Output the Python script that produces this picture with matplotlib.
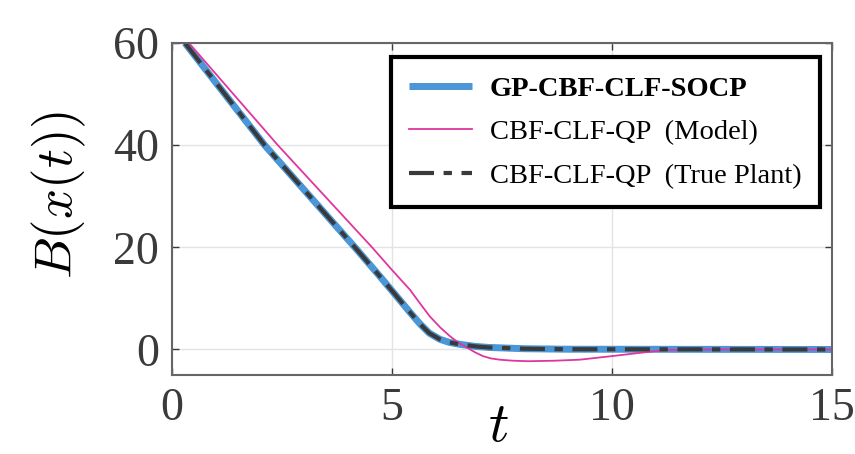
import matplotlib
matplotlib.use("Agg")
import matplotlib.pyplot as plt

t_socp = [0.3, 2.11, 4.16, 4.7, 5.1, 5.4, 5.64, 5.85, 6.09, 6.3, 6.55, 6.9, 7.2,
          8.0, 9.0, 15.0]
b_socp = [60.0, 40.0, 20.0, 14.6, 10.5, 7.4, 5.0, 3.2, 2.0, 1.4, 1.0, 0.6, 0.4,
          0.15, 0.05, 0.0]

t_model = [0.39, 2.41, 4.55, 5.0, 5.41, 5.65, 5.86, 6.1, 6.32, 6.5, 6.7, 6.9,
           7.07, 7.25, 7.45, 7.75, 8.1, 8.7, 9.27, 10.0, 10.8, 11.25, 12.0, 15.0]
b_model = [60.0, 40.0, 20.0, 15.6, 11.7, 8.9, 6.5, 4.3, 2.6, 1.4, 0.4, -0.6,
           -1.3, -1.75, -2.0, -2.2, -2.3, -2.2, -2.0, -1.3, -0.5, -0.1, 0.0, 0.0]

# true plant run lies on top of the SOCP curve
t_true = t_socp
b_true = b_socp

labels = ['GP-CBF-CLF-SOCP', 'CBF-CLF-QP  (Model)', 'CBF-CLF-QP  (True Plant)']
xticks = [0, 5, 10, 15]
yticks = [0, 20, 40, 60]

plt.rcParams['font.family'] = ['Liberation Serif', 'DejaVu Serif']
plt.rcParams['mathtext.fontset'] = 'cm'

fig = plt.figure(figsize=(8.55, 4.54), dpi=100)
ax = fig.add_axes([0.201, 0.174, 0.772, 0.731])

ax.plot(t_socp, b_socp, color='#4a96d6', lw=5, solid_capstyle='butt', label=labels[0])
ax.plot(t_model, b_model, color='#e0359f', lw=1.3, label=labels[1])
ax.plot(t_true, b_true, color='#3a3a3a', lw=3, dash_capstyle='butt',
        linestyle=(0, (6, 2.3, 2, 2.3)), label=labels[2])

ax.set_xlim(0, 15)
ax.set_ylim(-5, 60)
ax.set_xticks(xticks)
ax.set_yticks(yticks)
ax.grid(True, color='#e3e3e3', lw=1)
ax.tick_params(direction='in', length=5, width=1, top=True, right=True,
               labelsize=33, colors='#3a3a3a', pad=9)
for s in ax.spines.values():
    s.set_color('#666666')
    s.set_linewidth(1.5)

ax.set_ylabel('$B(x(t))$', fontsize=38)
ax.yaxis.set_label_coords(-0.171, 0.542)
ax.yaxis.label.set_va('center')
ax.set_xlabel('$t$', fontsize=41)
ax.xaxis.set_label_coords(0.495, -0.2)
ax.xaxis.label.set_va('baseline')

leg = ax.legend(loc='upper right', bbox_to_anchor=(0.982, 0.958), borderaxespad=0,
                fontsize=20.5, fancybox=False, framealpha=1, edgecolor='black',
                handlelength=2.2, handletextpad=0.63, labelspacing=0.62,
                borderpad=0.65)
leg.get_frame().set_linewidth(3)
leg.get_texts()[0].set_fontweight('bold')

fig.savefig('out.png', dpi=100)
